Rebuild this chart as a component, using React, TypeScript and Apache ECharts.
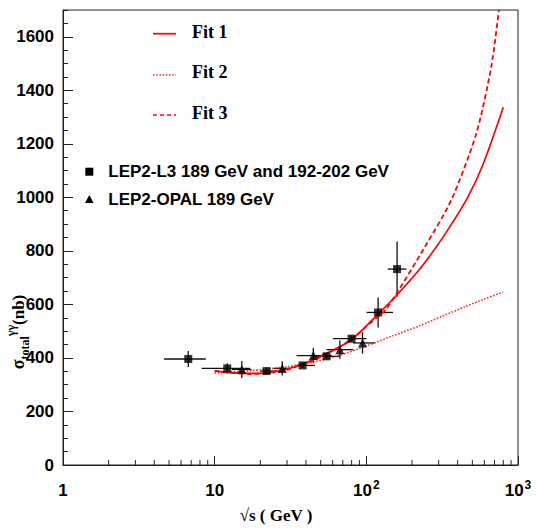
import React, { useEffect, useRef } from 'react';
import * as echarts from 'echarts';

// LEP2-L3 points (squares)
const l3X = [6.7, 12.1, 22.0, 38.0, 54.7, 79.9, 119.6, 159.5];
const l3Y = [396, 361, 351, 372, 406, 472, 570, 732];
const l3XLo = [4.64, 8.2, 19.9, 34.7, 44.4, 60.2, 100.3, 138.5];
const l3XHi = [8.74, 17.1, 25.6, 45.8, 66.9, 100.3, 150, 183.9];
const l3YErr = [30, 19, 12, 10, 10, 12, 56, 103];

// LEP2-OPAL points (triangles)
const opX = [15.1, 27.9, 44.7, 66.9, 94.4];
const opY = [357, 361, 409, 431, 456];
const opXLo = [13.0, 24.5, 34.7, 54.7, 81.5];
const opXHi = [17.5, 31.5, 59.0, 81.9, 113.8];
const opYErr = [32, 27, 28, 34, 40];

// Fit curves
const fit1X = [10, 13, 17, 22, 30, 40, 55, 80, 120, 162, 237, 337, 461, 587, 800];
const fit1Y = [352, 345, 342, 344, 358, 382, 418, 468, 565, 640, 748, 870, 995, 1122, 1337];
const fit2X = [10, 15, 20, 30, 45, 65, 100, 150, 225, 313, 450, 600, 795];
const fit2Y = [344, 350, 356, 367, 385, 408, 445, 483, 520, 555, 592, 620, 646];
const fit3X = [10, 13, 17, 22, 30, 40, 55, 80, 100, 133, 162, 237, 364, 532, 667, 748];
const fit3Y = [352, 344, 340, 343, 356, 380, 415, 470, 518, 578, 650, 804, 991, 1240, 1489, 1700];

// Axis ticks
const xMinorTicks = [2, 3, 4, 5, 6, 7, 8, 9, 20, 30, 40, 50, 60, 70, 80, 90, 200, 300, 400, 500, 600, 700, 800, 900];
const fitNames = ['Fit 1', 'Fit 2', 'Fit 3'];
const dataNames = ['LEP2-L3 189 GeV and 192-202 GeV', 'LEP2-OPAL 189 GeV'];

const RED = '#ff0000';
const SANS = '"Liberation Sans", Arial, sans-serif';
const SERIF = '"Liberation Serif", "Times New Roman", serif';

function errRender(_params: any, api: any) {
  const x = api.value(0), y = api.value(1);
  const l = api.coord([api.value(2), y]);
  const r = api.coord([api.value(3), y]);
  const b = api.coord([x, api.value(4)]);
  const t = api.coord([x, api.value(5)]);
  const c = api.coord([x, y]);
  const st = { stroke: '#111', lineWidth: 1.3 };
  return {
    type: 'group',
    children: [
      { type: 'line', shape: { x1: l[0], y1: c[1], x2: r[0], y2: c[1] }, style: st },
      { type: 'line', shape: { x1: c[0], y1: b[1], x2: c[0], y2: t[1] }, style: st },
    ],
  };
}

function minorTickRender(_params: any, api: any) {
  const p = api.coord([api.value(0), api.value(1)]);
  return {
    type: 'line',
    shape: { x1: p[0], y1: p[1], x2: p[0], y2: p[1] - 5 },
    style: { stroke: '#222', lineWidth: 1 },
  };
}

export default function App() {
  const ref = useRef<HTMLDivElement>(null);
  useEffect(() => {
    const chart = echarts.init(ref.current!, null, { renderer: 'svg' });
    const l3Err = l3X.map((x, i) => [x, l3Y[i], l3XLo[i], l3XHi[i], l3Y[i] - l3YErr[i], l3Y[i] + l3YErr[i]]);
    const opErr = opX.map((x, i) => [x, opY[i], opXLo[i], opXHi[i], opY[i] - opYErr[i], opY[i] + opYErr[i]]);
    const option: any = {
      animation: false,
      backgroundColor: '#fff',
      grid: {
        left: 63, right: 21, top: 10, bottom: 63,
        show: true, borderColor: '#222', borderWidth: 1, backgroundColor: 'transparent',
      },
      xAxis: {
        type: 'log', logBase: 10, min: 1, max: 1000,
        axisLine: { show: true, lineStyle: { color: '#222', width: 1 } },
        axisTick: { show: true, inside: true, length: 9, lineStyle: { color: '#222' } },
        splitLine: { show: false },
        axisLabel: {
          margin: 14,
          color: '#000',
          fontFamily: SANS,
          fontWeight: 'bold',
          fontSize: 17,
          formatter: (v: number) => {
            const e = Math.round(Math.log10(v));
            if (e === 0) return '{b|1}';
            if (e === 1) return '{b|10}';
            return '{b|10}{sup|' + e + '}';
          },
          rich: {
            b: { fontFamily: SANS, fontWeight: 'bold', fontSize: 17, lineHeight: 22, color: '#000' },
            sup: { fontFamily: SANS, fontWeight: 'bold', fontSize: 12, lineHeight: 12, verticalAlign: 'top', color: '#000', padding: [0, 0, 0, 1] },
          },
        },
      },
      yAxis: [
        {
          type: 'value', min: 0, max: 1700, interval: 200,
          axisLine: { show: true, lineStyle: { color: '#222', width: 1 } },
          axisTick: { show: true, inside: true, length: 10, lineStyle: { color: '#222' } },
          splitLine: { show: false },
          axisLabel: {
            margin: 9, color: '#000', fontFamily: SANS, fontWeight: 'bold', fontSize: 17, showMaxLabel: false,
            formatter: (v: number) => String(v),
          },
        },
        {
          type: 'value', min: 0, max: 1700, interval: 50, position: 'left',
          axisLine: { show: false },
          axisTick: { show: true, inside: true, length: 5, lineStyle: { color: '#222' } },
          splitLine: { show: false },
          axisLabel: { show: false },
        },
      ],
      series: [
        {
          name: fitNames[0], type: 'line', smooth: 0.25, symbol: 'none',
          data: fit1X.map((x, i) => [x, fit1Y[i]]),
          lineStyle: { color: RED, width: 1.7 },
        },
        {
          name: fitNames[1], type: 'line', smooth: 0.25, symbol: 'none',
          data: fit2X.map((x, i) => [x, fit2Y[i]]),
          lineStyle: { color: RED, width: 1.6, type: [1.6, 1.6], opacity: 0.85 },
        },
        {
          name: fitNames[2], type: 'line', smooth: 0.25, symbol: 'none',
          data: fit3X.map((x, i) => [x, fit3Y[i]]),
          lineStyle: { color: RED, width: 1.8, type: [5, 3] },
        },
        { type: 'custom', renderItem: errRender, data: l3Err, encode: { x: 0, y: 1 }, z: 3 },
        { type: 'custom', renderItem: errRender, data: opErr, encode: { x: 0, y: 1 }, z: 3 },
        {
          name: dataNames[0], type: 'scatter', symbol: 'rect', symbolSize: 8,
          data: l3X.map((x, i) => [x, l3Y[i]]), itemStyle: { color: '#000' }, z: 4,
        },
        {
          name: dataNames[1], type: 'scatter', symbol: 'triangle', symbolSize: 9,
          data: opX.map((x, i) => [x, opY[i]]), itemStyle: { color: '#000' }, z: 4,
        },
        {
          type: 'custom', renderItem: minorTickRender, clip: false,
          data: xMinorTicks.map((v) => [v, 0]), encode: { x: 0, y: 1 }, silent: true,
        },
      ],
      graphic: [
        // Fit legend
        { type: 'line', shape: { x1: 153, y1: 33.7, x2: 176, y2: 33.7 }, style: { stroke: RED, lineWidth: 1.7 } },
        { type: 'text', x: 192, y: 31.5, style: { text: fitNames[0], font: 'bold 18px ' + SERIF, fill: '#000', verticalAlign: 'middle', align: 'left' } },
        { type: 'line', shape: { x1: 153, y1: 75, x2: 176, y2: 75 }, style: { stroke: RED, lineWidth: 1.6, lineDash: [1.6, 1.6], opacity: 0.85 } },
        { type: 'text', x: 192, y: 72, style: { text: fitNames[1], font: 'bold 18px ' + SERIF, fill: '#000', verticalAlign: 'middle', align: 'left' } },
        { type: 'line', shape: { x1: 153, y1: 115, x2: 176, y2: 115 }, style: { stroke: RED, lineWidth: 1.6, lineDash: [4, 3] } },
        { type: 'text', x: 192, y: 112.5, style: { text: fitNames[2], font: 'bold 18px ' + SERIF, fill: '#000', verticalAlign: 'middle', align: 'left' } },
        // Data legend
        { type: 'rect', shape: { x: 85.3, y: 167.7, width: 8, height: 8 }, style: { fill: '#000' } },
        { type: 'text', x: 108.3, y: 171.5, style: { text: dataNames[0], font: 'bold 17px ' + SANS, fill: '#000', verticalAlign: 'middle', align: 'left' } },
        { type: 'polygon', shape: { points: [[89.3, 195], [85, 203], [93.6, 203]] }, style: { fill: '#000' } },
        { type: 'text', x: 108.3, y: 199, style: { text: dataNames[1], font: 'bold 17px ' + SANS, fill: '#000', verticalAlign: 'middle', align: 'left' } },
        // Axis titles
        {
          type: 'text', x: 276, y: 515,
          style: { text: '√s ( GeV )', font: 'bold 17px ' + SERIF, fill: '#000', align: 'center', verticalAlign: 'middle' },
        },
        {
          type: 'text', x: 18, y: 332, rotation: Math.PI / 2,
          style: {
            text: '{s|σ}{sub|total}{sup|γγ}{n|(nb)}',
            align: 'center', verticalAlign: 'middle',
            rich: {
              s: { fontFamily: SERIF, fontWeight: 'bold', fontSize: 18, lineHeight: 26, fill: '#000' },
              sub: { fontFamily: SERIF, fontWeight: 'bold', fontSize: 12, lineHeight: 12, verticalAlign: 'bottom', fill: '#000' },
              sup: { fontFamily: SERIF, fontWeight: 'bold', fontSize: 12, lineHeight: 12, verticalAlign: 'top', fill: '#000' },
              n: { fontFamily: SERIF, fontWeight: 'bold', fontSize: 17, lineHeight: 26, fill: '#000' },
            },
          },
        },
      ],
    };
    chart.setOption(option);
    return () => chart.dispose();
  }, []);
  return (
    <div
      ref={ref}
      style={{ position: 'fixed', left: 0, top: 0, width: 539, height: 528, background: '#fff' }}
    />
  );
}
